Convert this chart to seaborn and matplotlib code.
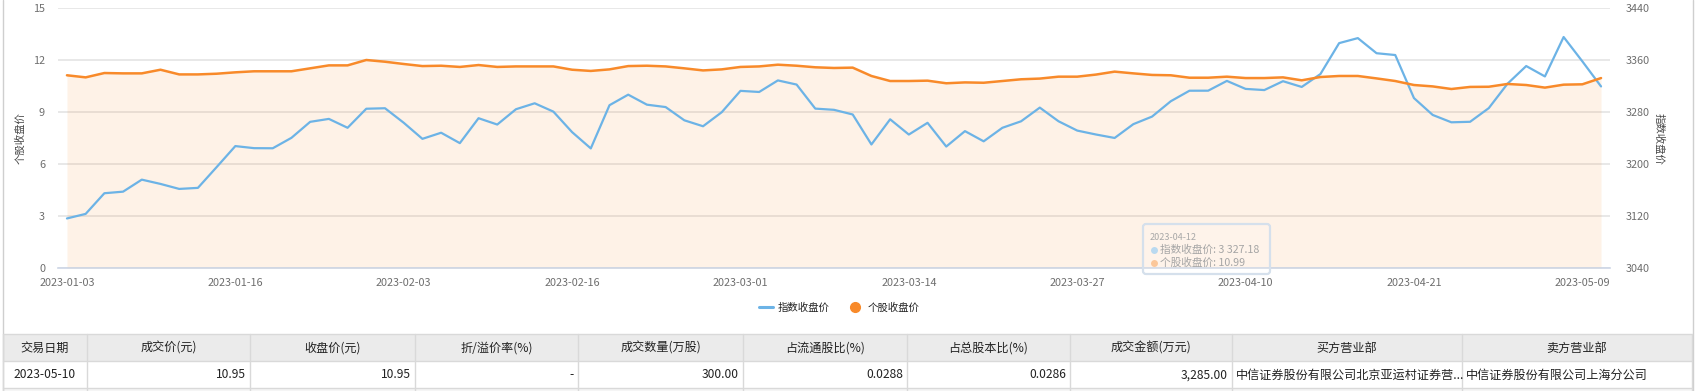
import matplotlib
matplotlib.use('Agg')
import matplotlib.pyplot as plt
import seaborn as sns
import pandas as pd
from matplotlib.lines import Line2D
from matplotlib.patches import Rectangle, FancyBboxPatch

# ---------------- data ----------------
dates = [
    '2023-01-03', '2023-01-04', '2023-01-05', '2023-01-06', '2023-01-09', '2023-01-10',
    '2023-01-11', '2023-01-12', '2023-01-13', '2023-01-16', '2023-01-17', '2023-01-18',
    '2023-01-19', '2023-01-20', '2023-01-30', '2023-01-31',
    '2023-02-01', '2023-02-02', '2023-02-03', '2023-02-06', '2023-02-07', '2023-02-08',
    '2023-02-09', '2023-02-10', '2023-02-13', '2023-02-14', '2023-02-15', '2023-02-16',
    '2023-02-17', '2023-02-20', '2023-02-21', '2023-02-22', '2023-02-23', '2023-02-24',
    '2023-02-27', '2023-02-28',
    '2023-03-01', '2023-03-02', '2023-03-03', '2023-03-06', '2023-03-07', '2023-03-08',
    '2023-03-09', '2023-03-10', '2023-03-13', '2023-03-14', '2023-03-15', '2023-03-16',
    '2023-03-17', '2023-03-20', '2023-03-21', '2023-03-22', '2023-03-23', '2023-03-24',
    '2023-03-27', '2023-03-28', '2023-03-29', '2023-03-30', '2023-03-31',
    '2023-04-03', '2023-04-04', '2023-04-06', '2023-04-07', '2023-04-10', '2023-04-11',
    '2023-04-12', '2023-04-13', '2023-04-14', '2023-04-17', '2023-04-18', '2023-04-19',
    '2023-04-20', '2023-04-21', '2023-04-24', '2023-04-25', '2023-04-26', '2023-04-27',
    '2023-04-28', '2023-05-04', '2023-05-05', '2023-05-08', '2023-05-09', '2023-05-10',
]

index_close = [
    3116.51, 3123.52, 3155.22, 3157.64, 3176.08, 3169.51, 3161.84, 3163.45, 3195.31,
    3227.59, 3224.41, 3224.24, 3240.28, 3264.81, 3269.32, 3255.67,
    3284.92, 3285.67, 3263.41, 3238.70, 3248.09, 3232.11, 3270.38, 3260.67, 3284.16,
    3293.28, 3280.49, 3249.03, 3224.02, 3290.34, 3306.52, 3291.15, 3287.48, 3267.16,
    3258.03, 3279.61,
    3312.35, 3310.65, 3328.39, 3322.03, 3285.10, 3283.25, 3276.09, 3230.08, 3268.70,
    3245.31, 3263.31, 3226.89, 3250.55, 3234.91, 3255.65, 3265.65, 3286.65, 3265.70,
    3251.40, 3245.38, 3240.06, 3261.25, 3272.86,
    3296.40, 3312.56, 3312.63, 3327.65, 3315.36, 3313.57, 3327.18, 3318.36, 3338.15,
    3385.61, 3393.33, 3370.13, 3367.35, 3301.26, 3275.41, 3264.10, 3264.87, 3285.88,
    3323.28, 3350.46, 3334.50, 3395.00, 3357.67, 3319.15,
]

stock_close = [
    11.11, 10.99, 11.24, 11.22, 11.22, 11.43, 11.16, 11.16, 11.20,
    11.28, 11.34, 11.34, 11.34, 11.51, 11.68, 11.68,
    11.99, 11.89, 11.76, 11.64, 11.66, 11.59, 11.70, 11.59, 11.62,
    11.62, 11.62, 11.43, 11.36, 11.45, 11.64, 11.66, 11.62, 11.51,
    11.39, 11.45,
    11.59, 11.62, 11.72, 11.66, 11.57, 11.53, 11.55, 11.07, 10.78,
    10.78, 10.80, 10.65, 10.70, 10.68, 10.78, 10.88, 10.92, 11.03,
    11.03, 11.15, 11.32, 11.22, 11.13,
    11.11, 10.97, 10.97, 11.03, 10.95, 10.95, 10.99, 10.82, 11.01,
    11.07, 11.07, 10.93, 10.78, 10.55, 10.47, 10.32, 10.44, 10.45,
    10.61, 10.55, 10.40, 10.57, 10.59, 10.95,
]

series_names = ['指数收盘价', '个股收盘价']
axis_titles = ['个股收盘价', '指数收盘价']
tick_step = 9
left_ticks = [0, 3, 6, 9, 12, 15]
right_ticks = [3040, 3120, 3200, 3280, 3360, 3440]
tooltip_date = '2023-04-12'

table_header = ['交易日期', '成交价(元)', '收盘价(元)', '折/溢价率(%)', '成交数量(万股)',
                '占流通股比(%)', '占总股本比(%)', '成交金额(万元)', '买方营业部', '卖方营业部']
table_row = ['2023-05-10', '10.95', '10.95', '-', '300.00', '0.0288', '0.0286',
             '3,285.00', '中信证券股份有限公司北京亚运村证券营...', '中信证券股份有限公司上海分公司']

# ---------------- style ----------------
sns.set_theme(style='white')
plt.rcParams['font.family'] = ['Noto Sans CJK SC', 'DejaVu Sans']

BLUE = '#6cb3e6'
ORANGE = '#f88a2a'
TICK_C = '#6e6e6e'
GRID_C = '#e4e4e4'
AXIS_C = '#cdd6e6'

W, H = 1696, 391
fig = plt.figure(figsize=(W / 100, H / 100), dpi=100)
fig.patch.set_facecolor('white')

n = len(dates)
df = pd.DataFrame({'pos': range(n), 'date': dates,
                   'index': index_close, 'stock': stock_close})

# plot area in pixels
L, R, T, B = 57.6, 1610.4, 7.7, 268.3

# background axes for frame/table (pixel coordinates)
bg = fig.add_axes([0, 0, 1, 1], zorder=-1)
bg.set_xlim(0, W)
bg.set_ylim(H, 0)
bg.axis('off')

ax = fig.add_axes([L / W, 1 - B / H, (R - L) / W, (B - T) / H], zorder=1)
ax.set_facecolor('none')
ax2 = ax.twinx()
ax3 = ax.twinx()

# fill under stock line (left axis)
ax.fill_between(df['pos'], 0, df['stock'], color=ORANGE, alpha=0.11, linewidth=0, zorder=2)
ax.set_ylim(left_ticks[0], left_ticks[-1])
ax.set_yticks(left_ticks)
ax.set_axisbelow(True)
ax.yaxis.grid(True, color=GRID_C, lw=1.2)
ax.xaxis.grid(False)

# index line (right axis)
sns.lineplot(data=df, x='pos', y='index', ax=ax2, color=BLUE, lw=1.6, legend=False)
ax2.set_ylim(right_ticks[0], right_ticks[-1])
ax2.set_yticks(right_ticks)

# stock line (left scale, drawn on top)
sns.lineplot(data=df, x='pos', y='stock', ax=ax3, color=ORANGE, lw=1.8, legend=False)
ax3.set_ylim(left_ticks[0], left_ticks[-1])
ax3.set_yticks([])

for a in (ax, ax2, ax3):
    a.set_xlim(-0.5, n - 0.5)
    a.set_xlabel('')
    a.set_ylabel('')
    for s in a.spines.values():
        s.set_visible(False)
ax.spines['bottom'].set_visible(True)
ax.spines['bottom'].set_color(AXIS_C)
ax.spines['bottom'].set_linewidth(1.2)

tick_pos = list(range(0, n, tick_step))
ax.set_xticks(tick_pos)
ax.set_xticklabels([dates[i] for i in tick_pos])
ax.tick_params(axis='x', length=5, width=1, color=AXIS_C, labelcolor=TICK_C,
               labelsize=7.8, pad=2)
ax.tick_params(axis='y', length=0, labelcolor=TICK_C, labelsize=7.8, pad=9)
ax2.tick_params(axis='y', length=0, labelcolor=TICK_C, labelsize=7.8, pad=11)
ax2.tick_params(axis='x', length=0)
ax3.tick_params(axis='both', length=0, labelleft=False, labelright=False)

fig.text(20 / W, 1 - 138 / H, axis_titles[0], rotation=90, ha='center', va='center',
         fontsize=7.5, color='#444')
fig.text(1658.5 / W, 1 - 139 / H, axis_titles[1], rotation=270, ha='center', va='center',
         fontsize=7.5, color='#444')

# tooltip
ti = dates.index(tooltip_date)
bx0, by0, bx1, by1 = 1143, 224, 1270, 274
tip = fig.add_axes([0, 0, 1, 1], zorder=5)
tip.set_xlim(0, W)
tip.set_ylim(H, 0)
tip.axis('off')
tip.add_patch(FancyBboxPatch((bx0, by0), bx1 - bx0, by1 - by0,
                             boxstyle='round,pad=0,rounding_size=3',
                             facecolor=(1, 1, 1, 0.15), edgecolor='#d5e0ec', lw=1.6))
tip.text(1150, 237, tooltip_date, fontsize=6.5, color='#a8a8a8', va='center', ha='left')
tip.plot([1154], [249.5], 'o', ms=5, color='#b9d9f0', mec='none')
tip.plot([1154], [262.5], 'o', ms=5, color='#fbc79a', mec='none')
idx_txt = f"{index_close[ti]:,.2f}".replace(',', ' ')
tip.text(1160, 249.5, f"{series_names[0]}: {idx_txt}", fontsize=7.7, color='#a5a5a5',
         va='center', ha='left')
tip.text(1160, 262.5, f"{series_names[1]}: {stock_close[ti]:.2f}", fontsize=7.7,
         color='#a5a5a5', va='center', ha='left')

# legend
handles = [Line2D([], [], color=BLUE, lw=2.2),
           Line2D([], [], color=ORANGE, lw=0, marker='o', ms=7)]
fig.legend(handles, series_names, loc='center', bbox_to_anchor=(839 / W, 1 - 308 / H),
           ncol=2, frameon=False, fontsize=7.5, handlelength=1.3, handletextpad=0.5,
           columnspacing=1.8, labelcolor='#222')

# widget frame
bg.plot([2.5, 2.5], [0, H], color='#cfcfcf', lw=1)
bg.plot([1693, 1693], [0, H], color='#cfcfcf', lw=1)

# table
col_edges = [3, 87, 250, 415, 578, 743, 907, 1070, 1232, 1462, 1692]
y_top, y_hdr, y_row, y_end = 334, 361, 388, H
bg.add_patch(Rectangle((col_edges[0], y_top), col_edges[-1] - col_edges[0], y_hdr - y_top,
                       facecolor='#ebebeb', edgecolor='none'))
bg.add_patch(Rectangle((col_edges[0], y_row), col_edges[-1] - col_edges[0], y_end - y_row,
                       facecolor='#f5f5f5', edgecolor='none'))
for yy in (y_top, y_hdr, y_row):
    bg.plot([col_edges[0], col_edges[-1]], [yy, yy], color='#d9d9d9', lw=1)
for xx in col_edges:
    bg.plot([xx, xx], [y_top, y_end], color='#d9d9d9', lw=1)

for i, h in enumerate(table_header):
    cx = (col_edges[i] + col_edges[i + 1]) / 2
    bg.text(cx, (y_top + y_hdr) / 2 + 0.5, h, ha='center', va='center', fontsize=8.7,
            color='#222', fontweight='medium')
for i, v in enumerate(table_row):
    yy = (y_hdr + y_row) / 2 + 0.5
    if i == 0:
        bg.text((col_edges[0] + col_edges[1]) / 2, yy, v, ha='center', va='center',
                fontsize=8.7, color='#222')
    elif i >= 8:
        bg.text(col_edges[i] + 4, yy, v, ha='left', va='center', fontsize=8.7, color='#222')
    else:
        bg.text(col_edges[i + 1] - 4, yy, v, ha='right', va='center', fontsize=8.7,
                color='#222')

fig.savefig('out.png', dpi=100, facecolor='white')
